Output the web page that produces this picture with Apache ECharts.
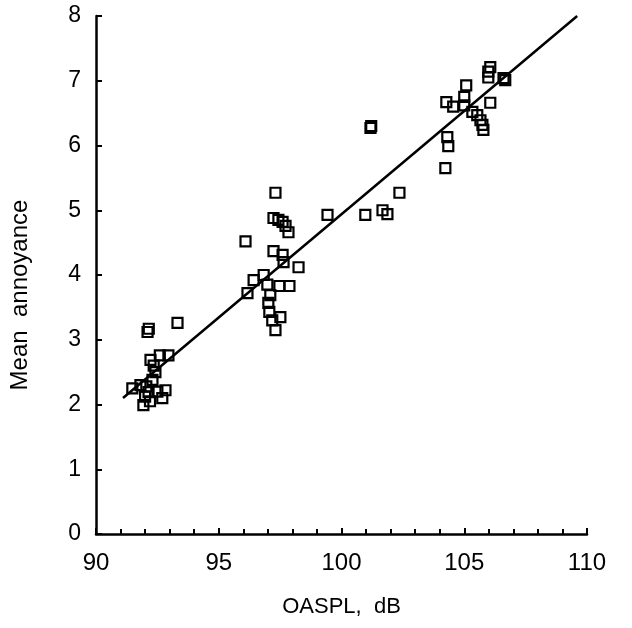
<!DOCTYPE html>
<html>
<head>
<meta charset="utf-8">
<script src="https://cdn.jsdelivr.net/npm/echarts@6/dist/echarts.min.js"></script>
<style>html,body{margin:0;padding:0;background:#fff;}#c{width:632px;height:628px;}</style>
</head>
<body>
<div id="c"></div>
<script>
const oaspl = [91.48, 91.93, 92.10, 92.15, 93.32, 92.22, 92.95, 92.60, 92.42, 92.30, 92.14, 92.50, 92.70, 91.81, 92.00, 92.20, 92.83, 92.35, 92.05,
  97.31, 97.23, 97.43, 97.60, 97.72, 97.84, 96.09, 97.23, 97.60, 97.64, 98.25, 96.83, 96.42, 96.17, 96.98, 97.47, 97.88, 97.10, 97.02, 97.06, 97.18, 97.51, 97.31, 99.43,
  100.97, 101.67, 101.87, 102.36, 101.18, 101.21,
  104.23, 104.35, 104.31, 104.27, 104.55, 105.08, 105.00, 105.00, 105.33, 105.53, 105.66, 105.74, 105.78, 106.06, 106.06, 105.98, 105.98, 106.60, 106.67];
const annoyance = [2.25, 1.99, 3.12, 3.17, 3.26, 2.69, 2.76, 2.76, 2.50, 2.38, 2.19, 2.20, 2.10, 2.30, 2.12, 2.05, 2.22, 2.60, 2.28,
  5.27, 4.88, 4.85, 4.82, 4.76, 4.66, 4.52, 4.37, 4.31, 4.20, 4.12, 4.00, 3.92, 3.72, 3.85, 3.83, 3.83, 3.69, 3.57, 3.43, 3.30, 3.35, 3.15, 4.93,
  4.93, 5.00, 4.94, 5.27, 6.27, 6.30,
  5.65, 5.99, 6.13, 6.67, 6.60, 6.93, 6.75, 6.62, 6.52, 6.47, 6.39, 6.32, 6.24, 6.66, 7.21, 7.14, 7.05, 7.04, 7.01];
const fitX = [91.1, 109.6];
const fitY = [2.1, 8.0];
const xTicks = [90, 95, 100, 105, 110];
const yTicks = [0, 1, 2, 3, 4, 5, 6, 7, 8];

const chart = echarts.init(document.getElementById('c'));
const font = 'Liberation Sans, Arial, Helvetica, sans-serif';
chart.setOption({
  animation: false,
  backgroundColor: '#fff',
  grid: { left: 95, right: 45, top: 16, bottom: 94 },
  xAxis: {
    type: 'value', min: xTicks[0], max: xTicks[xTicks.length - 1], interval: 5,
    name: 'OASPL,  dB', nameLocation: 'middle', nameGap: 62,
    nameTextStyle: { fontFamily: font, fontSize: 22, color: '#000' },
    axisLine: { show: true, lineStyle: { color: '#000', width: 2.5 } },
    axisTick: { show: true, inside: true, length: 6, lineStyle: { color: '#000', width: 2 } },
    minorTick: { show: true, splitNumber: 5, length: 5, lineStyle: { color: '#000', width: 2 } },
    axisLabel: { fontFamily: font, fontSize: 24, color: '#000', margin: 17 },
    splitLine: { show: false }
  },
  yAxis: {
    type: 'value', min: yTicks[0], max: yTicks[yTicks.length - 1], interval: 1,
    name: 'Mean  annoyance', nameLocation: 'middle', nameGap: 64,
    nameTextStyle: { fontFamily: font, fontSize: 24, color: '#000', padding: [0, 40, 0, 0] },
    axisLine: { show: true, lineStyle: { color: '#000', width: 2.5 } },
    axisTick: { show: true, inside: true, length: 6, lineStyle: { color: '#000', width: 2 } },
    axisLabel: { fontFamily: font, fontSize: 23, color: '#000', margin: 15 },
    splitLine: { show: false }
  },
  series: [
    {
      type: 'line',
      data: fitX.map((x, i) => [x, fitY[i]]),
      symbol: 'none',
      lineStyle: { color: '#000', width: 2.5 },
      z: 2
    },
    {
      type: 'scatter',
      data: oaspl.map((x, i) => [x, annoyance[i]]),
      symbol: 'rect',
      symbolSize: 10,
      itemStyle: { color: 'rgba(255,255,255,0)', borderColor: '#000', borderWidth: 2.2, opacity: 1 },
      z: 3
    }
  ]
});
</script>
</body>
</html>
